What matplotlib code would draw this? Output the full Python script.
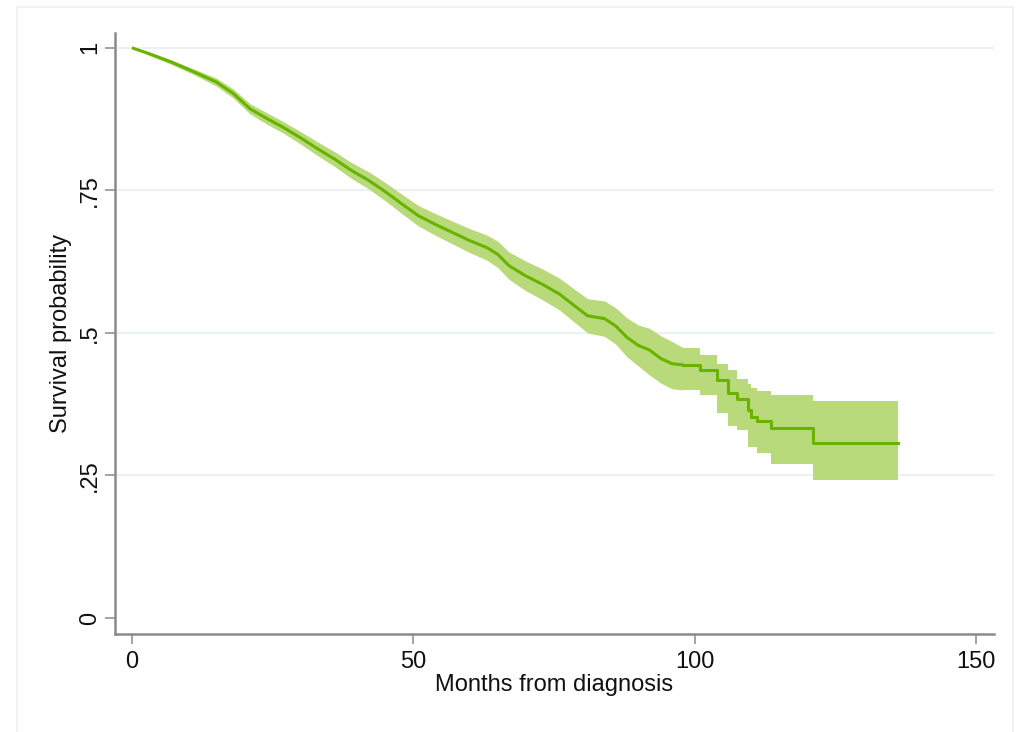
import matplotlib
matplotlib.use("Agg")
import matplotlib.pyplot as plt
from matplotlib.patches import Rectangle

plt.rcParams['font.family'] = ['Liberation Sans', 'DejaVu Sans']

# Kaplan-Meier estimate
months = [0, 3, 7, 11, 15, 18, 21, 24, 27, 30, 33, 36, 39, 42, 45, 48, 51, 54,
          57, 60, 63, 65, 67, 70, 73, 76, 79, 81, 84, 86, 88, 90, 92, 94, 96,
          98, 101, 104, 106, 107.5, 109.5, 110, 111, 113.5, 121, 136.1]
surv = [1.000, .990, .975, .958, .940, .920, .893, .876, .860, .842, .823,
        .805, .785, .768, .748, .726, .705, .690, .676, .662, .650, .638,
        .618, .600, .585, .568, .545, .530, .525, .512, .492, .478, .470,
        .455, .446, .444, .435, .418, .395, .385, .365, .353, .345, .333,
        .307, .307]
ci_lo = [1.000, .987, .971, .953, .933, .912, .884, .866, .850, .831, .811,
         .792, .771, .753, .732, .709, .687, .671, .656, .641, .628, .615,
         .594, .574, .558, .540, .516, .500, .494, .480, .458, .442, .426,
         .412, .402, .400, .391, .360, .336, .330, .300, .300, .289, .271,
         .242, .242]
ci_hi = [1.000, .993, .979, .963, .947, .928, .902, .886, .870, .853, .835,
         .818, .799, .783, .764, .743, .723, .709, .696, .683, .672, .661,
         .642, .626, .612, .596, .574, .560, .556, .544, .526, .514, .508,
         .495, .485, .474, .462, .445, .435, .420, .410, .404, .398, .391,
         .380, .380]

# up to month 98 the steps are too small to see, after it they are drawn as steps
n_dense = 36

xticks = [0, 50, 100, 150]
yticks = [0, .25, .5, .75, 1]
ylabels = ['0', '.25', '.5', '.75', '1']

fig = plt.figure(figsize=(10.2, 7.32), dpi=100)
fig.patches.append(Rectangle((17 / 1020, -0.01), 996 / 1020, 0.9999 - 7 / 732 + 0.01,
                             transform=fig.transFigure, fill=False,
                             edgecolor='#efefef', linewidth=1.2))
ax = fig.add_axes([115 / 1020, 98 / 732, 879 / 1020, 601 / 732])

for yv in yticks[1:]:
    ax.axhline(yv, color='#e8f1f2', linewidth=1.3, zorder=0)

band_c = '#b9da7b'
line_c = '#68b300'
ax.fill_between(months[:n_dense], ci_lo[:n_dense], ci_hi[:n_dense],
                color=band_c, linewidth=0, zorder=2)
ax.fill_between(months[n_dense - 1:], ci_lo[n_dense - 1:], ci_hi[n_dense - 1:],
                step='post', color=band_c, linewidth=0, zorder=2)
ax.plot(months[:n_dense], surv[:n_dense], color=line_c, linewidth=2.2,
        zorder=3, solid_capstyle='butt')
ax.step(months[n_dense - 1:], surv[n_dense - 1:], where='post', color=line_c,
        linewidth=2.2, zorder=3)

ax.set_xlim(-3.0, 153.2)
ax.set_ylim(-0.028, 1.026)
ax.set_xticks(xticks)
ax.set_yticks(yticks)
ax.set_yticklabels(ylabels, rotation=90, va='center')

for s in ['top', 'right']:
    ax.spines[s].set_visible(False)
for s in ['left', 'bottom']:
    ax.spines[s].set_color('#8a8a8a')
    ax.spines[s].set_linewidth(1.8)

ax.tick_params(axis='both', direction='out', length=7, width=1.1,
               color='#8a8a8a', labelsize=17, labelcolor='#111111')
ax.tick_params(axis='x', pad=5)
ax.tick_params(axis='y', pad=3)

ax.set_xlabel('Months from diagnosis', fontsize=17, color='#111111', labelpad=1)
ax.set_ylabel('Survival probability', fontsize=17, color='#111111', labelpad=5)

fig.savefig('out.png', dpi=100)
